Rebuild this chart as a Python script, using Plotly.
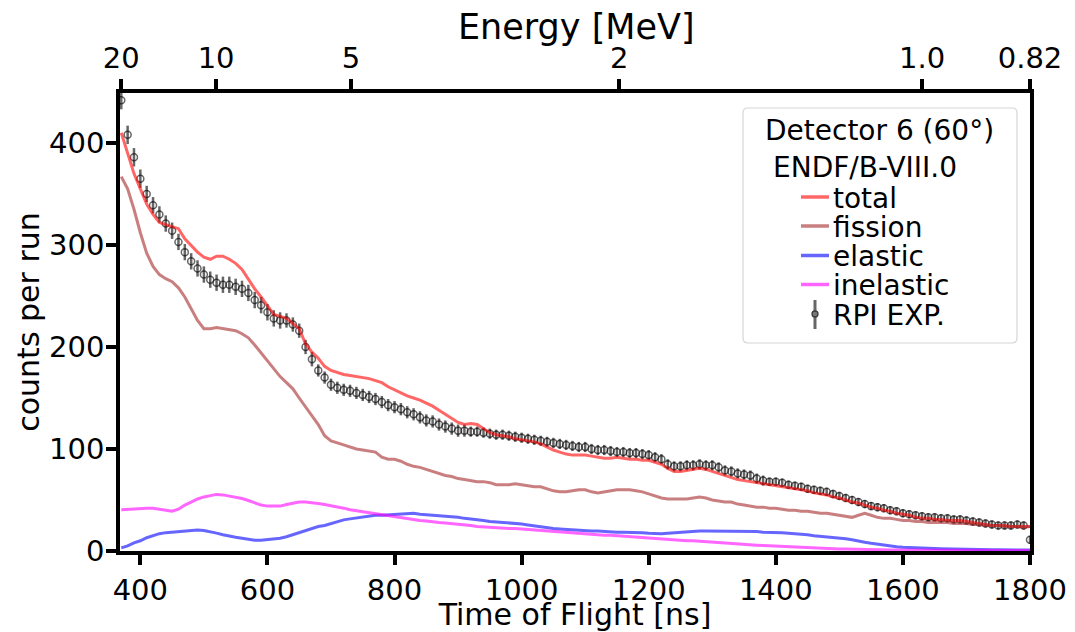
import math
import plotly.graph_objects as go

# ---------------- data ----------------
tof = list(range(370, 1801, 10))  # time-of-flight grid [ns]

total = [
    410, 390, 370, 355, 340, 330, 322, 320, 318, 316,
    306, 299, 293, 288, 286, 289, 289, 286, 282, 276,
    266, 257, 249, 241, 232, 230, 228, 223, 218, 203,
    195, 189, 181, 177, 175, 173, 172, 171, 170, 169,
    167, 165, 161, 158, 155, 152, 150, 148, 145, 142,
    138, 134, 130, 126, 124, 125, 124, 120, 116, 114,
    113, 112, 110, 109, 108, 107, 105, 102, 99, 97,
    95, 94, 94, 94, 93, 92, 91, 91, 92, 91,
    90, 90, 89, 89, 87, 85, 81, 78, 78, 79,
    80, 81, 80, 78, 76, 74, 72, 70, 69, 68,
    67, 66, 65, 64, 63, 62, 61, 60, 59, 57,
    56, 55, 53, 52, 50, 48, 47, 45, 43, 42,
    40, 39, 37, 36, 35, 33, 32, 32, 31, 31,
    30, 30, 30, 29, 28, 27, 26, 25, 25, 25,
    24, 24, 24, 24,
]

fission = [
    367, 355, 335, 312, 292, 279, 271, 267, 264, 258,
    249, 238, 226, 218, 218, 219, 218, 217, 216, 213,
    209, 202, 194, 186, 178, 171, 165, 159, 150, 141,
    133, 124, 113, 108, 106, 104, 102, 100, 99, 98,
    97, 92, 90, 90, 88, 85, 83, 82, 80, 78,
    76, 74, 73, 71, 70, 69, 68, 68, 67, 65,
    65, 65, 66, 65, 64, 63, 63, 61, 59, 58,
    58, 59, 60, 60, 58, 57, 58, 59, 60, 60,
    60, 59, 58, 56, 54, 52, 51, 51, 51, 51,
    52, 53, 52, 50, 49, 48, 48, 46, 45, 44,
    43, 43, 42, 42, 41, 40, 40, 39, 39, 38,
    37, 37, 36, 35, 34, 33, 35, 37, 35, 33,
    32, 32, 31, 30, 30, 29, 29, 28, 28, 28,
    28, 27, 27, 27, 26, 26, 25, 25, 25, 24,
    24, 24, 23, 24,
]

elastic = [
    3, 5, 8, 10, 13, 15, 17, 18, 18.5, 19,
    19.5, 20, 20.5, 20, 19, 17.5, 16, 14.5, 13.5, 12.5,
    11.5, 10.5, 10.5, 11, 11.5, 12.5, 14, 16, 18, 20,
    22, 24, 25, 27, 29, 30.5, 31.5, 32.5, 33.5, 34.5,
    35, 35, 35.5, 35.5, 36, 36.5, 37, 36, 35.5, 35,
    35, 34.5, 34, 33, 32, 31.5, 31, 30, 29, 28.5,
    28, 28, 27, 26.5, 25.5, 24.5, 23.5, 22.5, 22, 21.5,
    21, 20.5, 20.5, 20, 19.5, 19.5, 19, 19, 18.5, 18.5,
    18.5, 18.5, 18, 17.5, 17, 17, 17.5, 18, 18.5, 19,
    19.5, 19.5, 19.5, 19.5, 19.5, 19, 19, 19.5, 19.5, 19,
    19, 18.5, 18.5, 18, 18, 17.5, 17, 17, 16, 15,
    14.5, 13.5, 13, 13, 12, 11, 9.5, 8.5, 7.5, 6.5,
    5.5, 4.8, 4.2, 3.7, 3.3, 3, 2.8, 2.6, 2.4, 2.2,
    2, 1.9, 1.8, 1.7, 1.6, 1.5, 1.4, 1.3, 1.2, 1.2,
    1.1, 1.1, 1, 1,
]

inelastic = [
    40.5, 41, 41.5, 42, 42, 42, 41, 40, 39, 41,
    45, 48, 51, 53, 54.5, 55.5, 55, 54, 53, 51.5,
    49.5, 47, 45, 44, 44, 44, 45.5, 47, 48, 48,
    47.5, 46.5, 45.5, 44.5, 43.5, 42, 40.5, 39.5, 38.5, 37.5,
    36.5, 35.5, 34.5, 33.5, 32.5, 31.5, 30.5, 30, 29.5, 28.5,
    28, 27.5, 27, 26.5, 25.5, 25, 24, 23.5, 23, 22.5,
    22.5, 22, 22, 21.5, 21, 20.5, 20, 19.5, 19.5, 19,
    18.5, 18, 17.5, 17, 16.5, 16, 15.5, 15.5, 15, 15,
    14.5, 14, 13.5, 13, 12.5, 12, 11.5, 11, 10.5, 10,
    10, 9.5, 9, 8.5, 8, 7.5, 7.2, 7, 6.5, 6,
    5.7, 5.3, 5, 4.5, 4.2, 3.8, 3.5, 3.3, 3, 2.8,
    2.5, 2.3, 2.2, 2, 1.9, 1.7, 1.6, 1.5, 1.4, 1.3,
    1.2, 1.1, 1, 1, 0.9, 0.9, 0.8, 0.8, 0.8, 0.7,
    0.7, 0.7, 0.7, 0.6, 0.6, 0.6, 0.6, 0.6, 0.5, 0.5,
    0.5, 0.5, 0.5, 0.5,
]

exp_counts = [
    442, 408, 386, 365, 350, 339, 330, 321, 314, 303,
    293, 284, 277, 271, 266, 263, 261, 261, 259, 257,
    253, 246, 241, 234, 228, 226, 226, 222, 216, 200,
    188, 177, 170, 163, 160, 158, 157, 155, 153, 151,
    149, 146, 143, 141, 139, 136, 134, 131, 128, 127,
    124, 122, 120, 118, 118, 117, 117, 116, 115, 114,
    114, 113, 112, 111, 110, 109, 108, 107, 106, 105,
    104, 103, 102, 102, 100, 99, 99, 98, 97, 97,
    96, 96, 95, 94, 92, 90, 85, 83, 83, 84,
    84, 85, 84, 84, 82, 79, 78, 76, 75, 74,
    71, 69, 68, 68, 67, 65, 64, 63, 61, 60,
    59, 58, 56, 54, 52, 50, 48, 46, 44, 43,
    42, 40, 39, 37, 36, 35, 34, 33, 33, 32,
    32, 31, 31, 30, 29, 28, 27, 26, 25, 25,
    25, 26, 25, 11,
]

exp_err = [
    9, 9, 9, 9, 8, 8, 8, 8, 8, 8,
    8, 8, 8, 8, 8, 8, 8, 8, 8, 8,
    8, 8, 8, 8, 8, 8, 7, 7, 7, 7,
    7, 6, 6, 6, 6, 6, 6, 6, 6, 6,
    6, 6, 6, 6, 6, 6, 6, 6, 6, 6,
    6, 6, 6, 6, 6, 5, 5, 5, 5, 5,
    5, 5, 5, 5, 5, 5, 5, 5, 5, 5,
    5, 5, 5, 5, 5, 5, 5, 5, 5, 5,
    5, 5, 5, 5, 5, 5, 5, 5, 5, 5,
    5, 5, 5, 5, 5, 5, 5, 5, 5, 5,
    5, 5, 4, 4, 4, 4, 4, 4, 4, 4,
    4, 4, 4, 4, 4, 4, 4, 4, 4, 4,
    4, 4, 4, 4, 4, 4, 4, 4, 4, 4,
    4, 4, 4, 4, 4, 4, 4, 4, 4, 4,
    4, 4, 4, 4,
]

tof_ticks = [400, 600, 800, 1000, 1200, 1400, 1600, 1800]
count_ticks = [0, 100, 200, 300, 400]
energy_ticks = [20, 10, 5, 2, 1.0, 0.82]
energy_labels = ["20", "10", "5", "2", "1.0", "0.82"]

x_range = [368, 1800]
y_range = [0, 449]

# ---------------- energy <-> time-of-flight scale (relativistic) ----------------
MN = 939.565  # neutron mass [MeV]


def beta(E):
    g = 1.0 + E / MN
    return math.sqrt(1.0 - 1.0 / (g * g))


REF_E, REF_T = energy_ticks[-1], x_range[1]


def tof_of(E):
    return REF_T * beta(REF_E) / beta(E)


energy_tick_pos = [tof_of(e) for e in energy_ticks]

# ---------------- styles ----------------
FONT = "DejaVu Sans"
C_TOTAL = "rgba(255,0,0,0.6)"
C_FISS = "rgba(165,42,42,0.6)"
C_EL = "rgba(0,0,255,0.6)"
C_INEL = "rgba(255,0,255,0.6)"
C_EXP = "rgba(0,0,0,0.6)"
LW = 3

fig = go.Figure()

fig.add_trace(go.Scatter(
    x=tof, y=exp_counts, mode="markers", name="RPI EXP.",
    marker=dict(symbol="circle-open", size=7, color=C_EXP, line=dict(width=1.5, color=C_EXP)),
    error_y=dict(type="data", array=exp_err, visible=True, thickness=2.5, width=0, color=C_EXP),
))
for name, ys, col in [("total", total, C_TOTAL), ("fission", fission, C_FISS),
                      ("elastic", elastic, C_EL), ("inelastic", inelastic, C_INEL)]:
    fig.add_trace(go.Scatter(x=tof, y=ys, mode="lines", name=name,
                             line=dict(color=col, width=LW)))

# dummy trace so that the top (energy) axis is rendered
fig.add_trace(go.Scatter(x=[tof[0], tof[-1]], y=[None, None], xaxis="x2",
                         mode="lines", showlegend=False, hoverinfo="skip"))

AX_LW = 3.5
axis_common = dict(showgrid=False, zeroline=False, showline=True, linecolor="black",
                   linewidth=AX_LW, ticks="outside", ticklen=10, tickwidth=3.5,
                   tickcolor="black", automargin=False,
                   tickfont=dict(family=FONT, size=29, color="black"))

# the page body adds an 8 px offset; the figure is sized so the plot area
# lands at x 120..1030, y 93..551 of the 1075x632 window
OFF = 8
PL, PR, PT, PB = 120, 1030, 93, 551
W, H = 1075 - OFF, 632 - OFF

fig.update_layout(
    template="none",
    width=W, height=H,
    margin=dict(l=PL - OFF, r=1075 - PR, t=PT - OFF, b=632 - PB, pad=0),
    paper_bgcolor="white", plot_bgcolor="white",
    font=dict(family=FONT, color="black"),
    showlegend=False,
    xaxis=dict(range=x_range, tickvals=tof_ticks, mirror=False,
               title=dict(text="Time of Flight [ns]", font=dict(family=FONT, size=30), standoff=0),
               **axis_common),
    xaxis2=dict(range=x_range, overlaying="x", side="top", anchor="y",
                tickvals=energy_tick_pos, ticktext=energy_labels,
                **axis_common),
    yaxis=dict(range=y_range, tickvals=count_ticks, mirror=True, ticklabelstandoff=-4,
               title=dict(text="counts per run", font=dict(family=FONT, size=30), standoff=2),
               **axis_common),
)


def px(x):
    return (x - PL) / (PR - PL)


def py(y):
    return (PB - y) / (PB - PT)


# top axis title
fig.add_annotation(x=px(576), y=py(27), xref="paper", yref="paper", showarrow=False,
                   text="Energy [MeV]", font=dict(family=FONT, size=35, color="black"),
                   xanchor="center", yanchor="middle")

# ---------------- hand-drawn legend (matplotlib style) ----------------
bx0, bx1, by0, by1, r = 743, 1017, 108, 343, 5
rx, ry = r / (PR - PL), r / (PB - PT)
X0, X1, Y0, Y1 = px(bx0), px(bx1), py(by1), py(by0)
path = (f"M {X0+rx},{Y0} L {X1-rx},{Y0} Q {X1},{Y0} {X1},{Y0+ry} "
        f"L {X1},{Y1-ry} Q {X1},{Y1} {X1-rx},{Y1} L {X0+rx},{Y1} "
        f"Q {X0},{Y1} {X0},{Y1-ry} L {X0},{Y0+ry} Q {X0},{Y0} {X0+rx},{Y0} Z")
fig.add_shape(type="path", path=path, xref="paper", yref="paper",
              line=dict(color="rgb(214,214,214)", width=1.2),
              fillcolor="rgba(255,255,255,0.8)", layer="above")

LFS = 28
fig.add_annotation(x=px(879), y=py(131), xref="paper", yref="paper", showarrow=False,
                   text="Detector 6 (60°)", font=dict(family=FONT, size=LFS, color="black"),
                   xanchor="center", yanchor="middle")
fig.add_annotation(x=px(865), y=py(167), xref="paper", yref="paper", showarrow=False,
                   text="ENDF/B-VIII.0", font=dict(family=FONT, size=LFS, color="black"),
                   xanchor="center", yanchor="middle")

entries = [("total", C_TOTAL, 197), ("fission", C_FISS, 226),
           ("elastic", C_EL, 255.5), ("inelastic", C_INEL, 284.5)]
for label, col, yy in entries:
    fig.add_shape(type="line", xref="paper", yref="paper", x0=px(801), x1=px(829),
                  y0=py(yy), y1=py(yy), line=dict(color=col, width=3.5), layer="above")
    fig.add_annotation(x=px(831), y=py(yy + 1), xref="paper", yref="paper", showarrow=False,
                       text=label, font=dict(family=FONT, size=LFS, color="black"),
                       xanchor="left", yanchor="middle")

ry_exp = 314
fig.add_shape(type="line", xref="paper", yref="paper", x0=px(815), x1=px(815),
              y0=py(300), y1=py(329), line=dict(color=C_EXP, width=3), layer="above")
fig.add_shape(type="circle", xref="paper", yref="paper", x0=px(812), x1=px(818),
              y0=py(ry_exp + 3), y1=py(ry_exp - 3),
              line=dict(color="rgba(60,60,60,1)", width=1.3), fillcolor="rgba(120,120,120,1)",
              layer="above")
fig.add_annotation(x=px(831), y=py(ry_exp + 1), xref="paper", yref="paper", showarrow=False,
                   text="RPI EXP.", font=dict(family=FONT, size=LFS, color="black"),
                   xanchor="left", yanchor="middle")

fig.write_html("out.html")
